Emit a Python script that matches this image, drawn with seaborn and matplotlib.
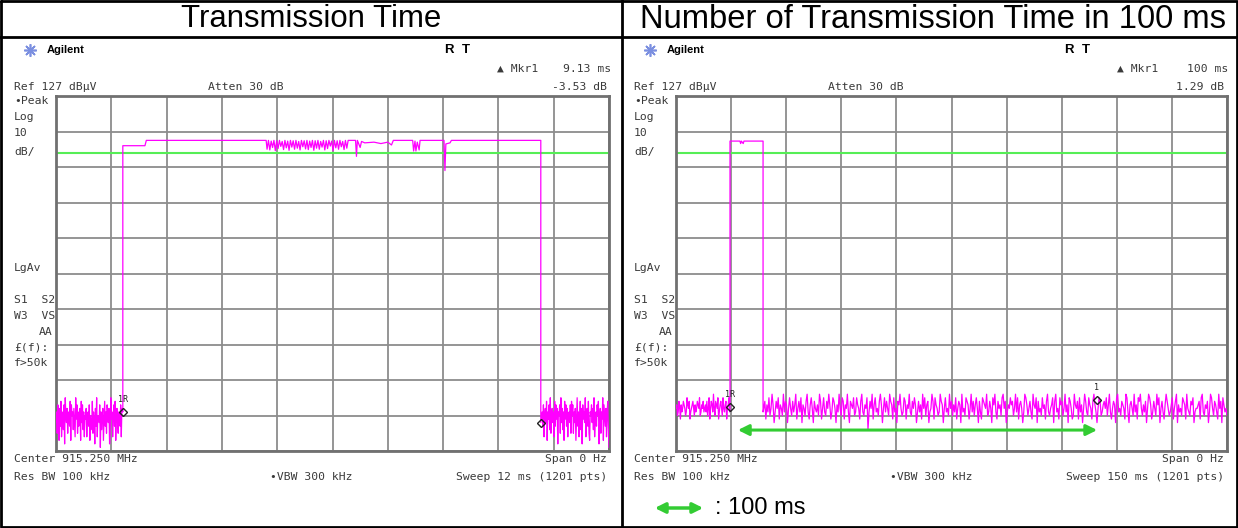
import numpy as np
import pandas as pd
import seaborn as sns
import matplotlib.pyplot as plt

# ---- data read off the two analyzer screens ----
# noise strings: each hex char = dBuV above 28
left_noise_a = ("7a4c92b6d38a5c1e97b4a86d2c9a5b73e8c4a69b2d7c5a39"
                "8b39a6c2975d4a81b6e3987c0a59b28d6a4c97b15e8a39c6d28b74a96c3b")
left_noise_b = ("a6c39b7d2a8c5e49b7a3d6c8b1a9c4e7b5a2d8c6b39a7c4d"
                "9c4a7b28e6a39d5b1c8a7e39b6d42a9c7b5e38a6c9d17b4a8e2c96b3ad50")
left_top_t = [1.45, 1.45, 1.93, 1.96, 4.56]
left_top_db = [38.0, 113.0, 113.0, 114.5, 114.5]
left_burst = [112.0, 114.5, 111.8, 114.3, 112.5, 114.5, 111.6, 114.4, 112.2, 114.5,
              112.8, 114.2, 111.9, 114.5, 112.4, 114.3, 111.7, 114.5, 112.6, 114.4,
              112.0, 114.5, 112.3, 114.2, 111.8, 114.5, 112.7, 114.4, 112.1, 114.5,
              111.9, 114.3, 112.5, 114.5, 111.7, 114.4, 112.3, 114.5, 112.0, 114.2,
              112.6, 114.5, 111.8, 114.4, 112.2, 114.5, 112.9, 114.3, 111.6, 114.5,
              112.4, 114.4, 112.0, 114.5, 112.7, 114.2, 111.9, 114.5, 112.3, 114.5]
left_tail_t = [6.36, 6.50, 6.52, 6.54, 6.60, 6.63, 6.70, 6.90, 7.05, 7.20, 7.28, 7.32,
               7.74, 7.76, 7.79, 7.81, 7.84, 7.88, 7.90, 8.42, 8.44, 8.46, 8.55, 8.58,
               10.52, 10.52]
left_tail_db = [114.5, 114.5, 110.0, 114.5, 112.5, 114.2, 113.8, 114.0, 113.6, 114.0, 113.2, 114.5,
                114.5, 111.5, 114.3, 111.5, 114.0, 111.8, 114.5, 114.5, 106.0, 113.5, 113.8, 114.5,
                114.5, 35.0]

right_noise_a = ("bc9adb8cabdcb9aecbd8abcdb9cabdcbe9acbdab"
                 "cad9be8bdcafb9dcbe8acdb9ebacd8bcea")
right_noise_b = ("bd8cae9bfc7adbe8cb9fadc7beb9da" "cf8bdae7cb9dfa8ceb7dbac9fd8bea"
                 "9dbfc8aedb7cafb9ed8cbfa7dcbe9a" "ecb8dfa9cbe5adbf8ceab9dfc7bead"
                 "b9fdc8eab7dcfb9aed8cbfa9dbec7a" "dac8fbe9cd7abfd8ecb9afdc7beab9"
                 "fbd9cae8bdc7fab9edc8bfad9ceb7d" "a8edcbf9adb7ecfa8dbc9efbd7acbe"
                 "cd9bfae8cdb7afec9bda8fcbe7dab9" "ebc8dfa9bce7dfab8ecd9bfac7edb8"
                 "9fcbd8eac7bfda9ecb8dfca7bed9ac" "dbe9cfa8bdc7efab9dcb8fea7cdb9f"
                 "ac8edfb9cad7bfec8adb9fce7bda8c" "fdb9ace8bdf7cab9edc8fba9dce7ab"
                 "bcd8efa9cbd7afeb9dca8fbd7ecab9")
right_top_t = [14.7, 14.7, 17.4, 17.6, 17.8, 18.3, 18.5, 23.7, 23.7]
right_top_db = [39.5, 114.3, 114.3, 113.6, 114.3, 113.6, 114.3, 114.3, 38.0]

display_line = 110.9
markers_left = [(1.45, 38.0, '1R'), (10.52, 35.0, '')]
markers_right = [(14.7, 39.5, '1R'), (114.6, 41.5, '1')]


def hexnoise(s):
    return [28 + int(c, 16) for c in s]


left_t = np.concatenate([np.linspace(0, 1.43, len(left_noise_a)), left_top_t,
                         np.linspace(4.58, 6.34, len(left_burst)), left_tail_t,
                         np.linspace(10.55, 12, len(left_noise_b))])
left_db = np.concatenate([hexnoise(left_noise_a), left_top_db, left_burst, left_tail_db,
                          hexnoise(left_noise_b)])
right_t = np.concatenate([np.linspace(0, 14.6, len(right_noise_a)), right_top_t,
                          np.linspace(23.9, 150, len(right_noise_b))])
right_db = np.concatenate([hexnoise(right_noise_a), right_top_db, hexnoise(right_noise_b)])

W, H = 1238, 528
sns.set_style("white")
fig = plt.figure(figsize=(W / 100, H / 100), dpi=100)
page = fig.add_axes([0, 0, 1, 1])
page.set_xlim(0, W)
page.set_ylim(H, 0)
page.axis('off')


def box(x0, y0, x1, y1):
    return [x0 / W, 1 - y1 / H, (x1 - x0) / W, (y1 - y0) / H]


# table frame
for xs, ys in [([1, 1237, 1237, 1, 1], [1, 1, 527, 527, 1]), ([0, W], [37, 37]), ([622, 622], [0, H])]:
    page.plot(xs, ys, color='black', lw=2, clip_on=False)

page.text(311, 19, 'Transmission Time', fontsize=22.4, family='Liberation Sans',
          color='black', ha='center', va='center')
page.text(933, 19, 'Number of Transmission Time in 100 ms', fontsize=23.6, family='Liberation Sans',
          color='black', ha='center', va='center')

mono = dict(family='DejaVu Sans Mono', fontsize=8.2, color='#3a3a3a', va='center')


def screen(ox, right, sweep, mkr_t, mkr_db):
    page.plot([ox + 30], [50], marker=(8, 2, 0), ms=9, color='#7b8fe0', mew=1.2)
    page.text(ox + 47, 50, 'Agilent', family='Liberation Sans', fontsize=8, weight='bold',
              color='black', va='center')
    page.text(ox + 444, 50, 'R', family='Liberation Sans', fontsize=9.5, weight='bold',
              color='black', va='center')
    page.text(ox + 462, 50, 'T', family='Liberation Sans', fontsize=9.5, weight='bold',
              color='black', va='center')
    page.text(ox + 497, 69, '\u25b2 Mkr1', **mono)
    page.text(right + 4, 69, mkr_t, ha='right', **mono)
    page.text(ox + 14, 87, 'Ref 127 dB\u00b5V', **mono)
    page.text(ox + 208, 87, 'Atten 30 dB', **mono)
    page.text(right, 87, mkr_db, ha='right', **mono)
    for y, s in [(101, '\u2022Peak'), (117, 'Log'), (133, '10'), (152, 'dB/'), (268, 'LgAv'),
                 (300, 'S1  S2'), (316, 'W3  VS'), (347, '\u00a3(f):'), (363, 'f>50k')]:
        page.text(ox + 14, y, s, **mono)
    page.text(ox + 53, 332, 'AA', ha='right', **mono)
    page.text(ox + 14, 459, 'Center 915.250 MHz', **mono)
    page.text(right, 459, 'Span 0 Hz', ha='right', **mono)
    page.text(ox + 14, 477, 'Res BW 100 kHz', **mono)
    page.text(ox + 270, 477, '\u2022VBW 300 kHz', **mono)
    page.text(right, 477, sweep, ha='right', **mono)


screen(0, 607, 'Sweep 12 ms (1201 pts)', '9.13 ms', '-3.53 dB')
screen(620, 1224, 'Sweep 150 ms (1201 pts)', '100 ms', '1.29 dB')


def trace_axes(rect, t, db, span, marks):
    ax = fig.add_axes(rect)
    df = pd.DataFrame({'t': t, 'db': db})
    sns.lineplot(data=df, x='t', y='db', ax=ax, color='#ff00ff', lw=0.9,
                 estimator=None, sort=False, zorder=3)
    ax.axhline(display_line, color='#55ee55', lw=1.5, zorder=2)
    for mt, mdb, lab in marks:
        ax.plot([mt], [mdb], marker='D', ms=4, mfc='none', mec='#222222', mew=1, zorder=4)
        if lab:
            ax.annotate(lab, (mt, mdb), xytext=(0, 9), textcoords='offset points',
                        ha='center', va='center', fontsize=6, family='DejaVu Sans Mono', color='#222222')
    ax.set_xlim(0, span)
    ax.set_ylim(27, 127)
    ax.set_xticks(np.linspace(0, span, 11))
    ax.set_yticks(np.arange(27, 128, 10))
    ax.grid(True, color='#8c8c8c', lw=1.3)
    ax.set_axisbelow(True)
    ax.tick_params(length=0, labelbottom=False, labelleft=False)
    ax.set_xlabel('')
    ax.set_ylabel('')
    for sp in ax.spines.values():
        sp.set_color('#707070')
        sp.set_linewidth(2)
    return ax


trace_axes(box(56, 96, 609, 451), left_t, left_db, 12, markers_left)
ax_r = trace_axes(box(676, 96, 1227, 451), right_t, right_db, 150, markers_right)
ax_r.annotate('', xy=(16.1, 32.9), xytext=(115.4, 32.9),
              arrowprops=dict(arrowstyle='<|-|>', color='#33cc33', lw=2.2, mutation_scale=16))

# legend for the arrow
page.annotate('', xy=(652, 508), xytext=(706, 508),
              arrowprops=dict(arrowstyle='<|-|>', color='#33cc33', lw=2.5, mutation_scale=15))
page.text(715, 508, ': 100 ms', fontsize=17, family='Liberation Sans', color='black', va='center')

fig.savefig('out.png', dpi=100)
